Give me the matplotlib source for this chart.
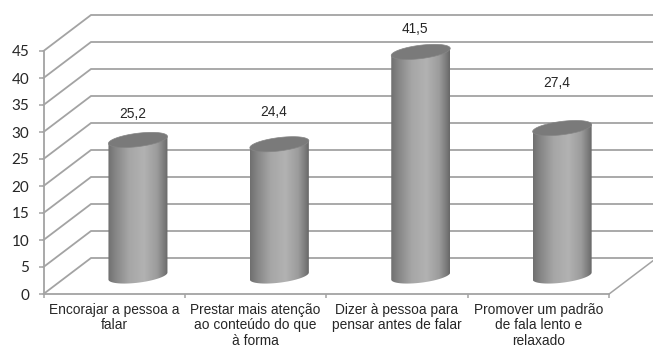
import matplotlib
matplotlib.use('Agg')
import matplotlib.pyplot as plt
import numpy as np
from matplotlib.colors import LinearSegmentedColormap
from matplotlib.patches import Polygon

plt.rcParams['font.family'] = ['Liberation Sans', 'DejaVu Sans']

categories = ['Encorajar a pessoa a\nfalar',
              'Prestar mais atenção\nao conteúdo do que\nà forma',
              'Dizer à pessoa para\npensar antes de falar',
              'Promover um padrão\nde fala lento e\nrelaxado']
values = [25.2, 24.4, 41.5, 27.4]
value_labels = ['25,2', '24,4', '41,5', '27,4']
y_ticks = [0, 5, 10, 15, 20, 25, 30, 35, 40, 45]

# hand placed labels, offset in points from the top of each bar
label_offsets = [(-4, 19), (-4, 23), (-4, 16.5), (-4, 32.5)]

W, H = 653, 348
# pixels per unit on the front plane
px_x = 141.4
px_y = 5.4
# depth of the 3d box, in data units
depth_x = 47.5 / px_x
depth_y = 36 / px_y

grid_col = '#a3a3a3'
text_col = '#262626'

fig = plt.figure(figsize=(W / 100, H / 100), dpi=100, facecolor='white')
ax = fig.add_axes([0, 0, 1, 1])
ax.set_xlim(-43.5 / px_x, (W - 43.5) / px_x)
ax.set_ylim(-(H - 294) / px_y, 294 / px_y)
ax.patch.set_visible(False)

# walls and floor
for v in y_ticks:
    ax.plot([0, depth_x, 4 + depth_x], [v, v + depth_y, v + depth_y],
            color=grid_col, lw=1.3, zorder=1, solid_joinstyle='miter', clip_on=False)
ax.plot([4, 4 + depth_x], [0, depth_y], color=grid_col, lw=1.1, zorder=1)

for s in ['top', 'right']:
    ax.spines[s].set_visible(False)
ax.spines['left'].set_position(('data', 0))
ax.spines['bottom'].set_position(('data', 0))
ax.spines['left'].set_bounds(0, 45)
ax.spines['bottom'].set_bounds(0, 4)
for s in ['left', 'bottom']:
    ax.spines[s].set_color(grid_col)
    ax.spines[s].set_linewidth(1.3)

ax.set_yticks(y_ticks)
ax.set_yticklabels([str(v) for v in y_ticks], fontfamily='Lato', fontsize=11, color=text_col)
ax.tick_params(axis='y', length=3.6, width=1.1, color=grid_col, pad=6.5)
ax.set_xticks(range(5))
ax.set_xticklabels([])
ax.set_xticks(np.arange(4) + 0.5, minor=True)
ax.set_xticklabels(categories, minor=True, fontsize=9.9, color=text_col, linespacing=1.12)
ax.tick_params(axis='x', which='major', length=3.2, width=1.1, color=grid_col)
ax.tick_params(axis='x', which='minor', length=0, pad=6.5)

# cylinder shading, dark at both edges and lighter just right of the middle
shade = LinearSegmentedColormap.from_list('cyl', [
    (0.0, '#707070'), (0.12, '#858585'), (0.35, '#a6a6a6'), (0.6, '#b2b2b2'),
    (0.82, '#9c9c9c'), (0.95, '#787878'), (1.0, '#686868')])
gradient = np.linspace(0, 1, 200).reshape(1, -1)

half_w = 29.5 / px_x
semi = 6.7 / px_y
tilt = 3.5 / px_y
t = np.linspace(0, 2 * np.pi, 121)
# rim of a cylinder end, rising towards the right
ell_x = half_w * np.cos(t)
ell_y = semi * np.sin(t) + tilt * np.cos(t)

for i, val in enumerate(values):
    cx = i + 0.5 + depth_x / 2
    base = depth_y / 2
    top = val + depth_y / 2

    # side: lower half of the base rim joined to the top rim
    lower = t >= np.pi
    body = np.vstack([np.column_stack([cx + ell_x[lower], base + ell_y[lower]]),
                      [[cx + half_w, top + tilt], [cx - half_w, top - tilt]]])
    patch = Polygon(body, closed=True, transform=ax.transData, facecolor='none', edgecolor='none')
    ax.add_patch(patch)
    im = ax.imshow(gradient, cmap=shade, aspect='auto', zorder=3, interpolation='bilinear',
                   extent=[cx - half_w, cx + half_w, base - semi * 1.5, top + semi])
    im.set_clip_path(patch)

    ax.add_patch(Polygon(np.column_stack([cx + ell_x, top + ell_y]), closed=True,
                         facecolor='#7a7a7a', edgecolor='#858585', lw=0.5, zorder=4))

    ax.annotate(value_labels[i], (cx, top), xytext=label_offsets[i], textcoords='offset points',
                ha='center', va='center', fontsize=9.9, color=text_col, zorder=5)

# imshow resets the limits
ax.set_xlim(-43.5 / px_x, (W - 43.5) / px_x)
ax.set_ylim(-(H - 294) / px_y, 294 / px_y)

fig.savefig('out.png', dpi=100)
